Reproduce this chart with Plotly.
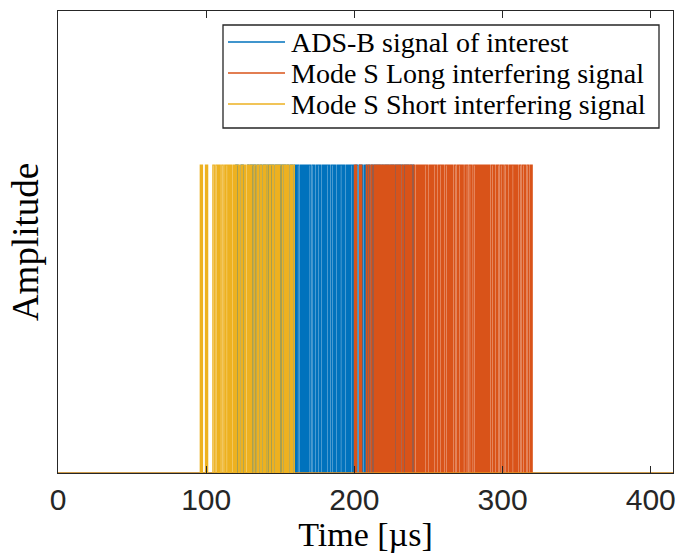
import plotly.graph_objects as go

# Time axis extent (microseconds)
T_END = 415.0

# Message start times (microseconds)
ADS_B_START = 120.0
MODE_S_LONG_START = 200.0
MODE_S_SHORT_START = 96.0

# Message contents (hex): 112-bit extended squitter / long reply, 56-bit short reply
ADS_B_HEX = "8D4840D6202CC371C32CE0576098"
MODE_S_LONG_HEX = "A8000F3E80C33BE9CB7FF65B1EB4"
MODE_S_SHORT_HEX = "5D3C6614C4C2F1"

# 8 us preamble in 0.5 us chips: pulses at 0, 1.0, 3.5 and 4.5 us
PREAMBLE_CHIPS = [1, 0, 1, 0, 0, 0, 0, 1, 0, 1, 0, 0, 0, 0, 0, 0]
CHIP_US = 0.5

SERIES_NAMES = [
    "ADS-B signal of interest",
    "Mode S Long interfering signal",
    "Mode S Short interfering signal",
]
SERIES_COLORS = ["#0072BD", "#D95319", "#EDB120"]


def hex_to_bits(hexstr):
    out = []
    for ch in hexstr:
        v = int(ch, 16)
        out.extend([(v >> k) & 1 for k in (3, 2, 1, 0)])
    return out


def ppm_chips(hexstr):
    chips = list(PREAMBLE_CHIPS)
    for b in hex_to_bits(hexstr):
        chips.extend([1, 0] if b else [0, 1])
    return chips


def waveform(start, hexstr):
    chips = ppm_chips(hexstr)
    xs, ys = [0.0], [0]
    for i, c in enumerate(chips):
        xs.append(start + CHIP_US * i)
        ys.append(c)
    xs.append(start + CHIP_US * len(chips))
    ys.append(0)
    xs.append(T_END)
    ys.append(0)
    return xs, ys


signals = [
    (ADS_B_START, ADS_B_HEX),
    (MODE_S_LONG_START, MODE_S_LONG_HEX),
    (MODE_S_SHORT_START, MODE_S_SHORT_HEX),
]

fig = go.Figure()
for (start, msg), name, color in zip(signals, SERIES_NAMES, SERIES_COLORS):
    xs, ys = waveform(start, msg)
    fig.add_trace(go.Scatter(
        x=xs, y=ys, mode="lines", name=name, showlegend=False,
        line=dict(color=color, width=1.2, shape="hv"),
    ))

AXIS_COLOR = "#262626"
SERIF = "Liberation Serif"

# Plot-area geometry in pixels, used to place the boxed legend
W, H = 676, 559
ML, MR, MT, MB = 58, 3, 11, 86
PW, PH = W - ML - MR, H - MT - MB


def px(xp):
    return (xp - ML) / PW


def py(yp):
    return (H - MB - yp) / PH


# Boxed legend: frame, line samples and labels
LEG_LEFT, LEG_RIGHT, LEG_TOP, LEG_BOTTOM = 223, 659, 25, 128
ROW_Y = [42, 73, 104]
fig.add_shape(type="rect", xref="paper", yref="paper",
              x0=px(LEG_LEFT), x1=px(LEG_RIGHT), y0=py(LEG_BOTTOM), y1=py(LEG_TOP),
              line=dict(color=AXIS_COLOR, width=1.3), fillcolor="white", layer="above")
for name, color, ry in zip(SERIES_NAMES, SERIES_COLORS, ROW_Y):
    fig.add_shape(type="line", xref="paper", yref="paper",
                  x0=px(228), x1=px(285), y0=py(ry), y1=py(ry),
                  line=dict(color=color, width=1.4), layer="above")
    fig.add_annotation(text=name, xref="paper", yref="paper",
                       x=px(289), y=py(ry), xanchor="left", yanchor="middle",
                       showarrow=False,
                       font=dict(family=SERIF, size=28, color="#000000"))

fig.update_layout(
    width=W, height=H,
    margin=dict(l=ML, r=MR, t=MT, b=MB, autoexpand=False),
    paper_bgcolor="white", plot_bgcolor="white",
    xaxis=dict(
        range=[0, T_END], tickvals=[0, 100, 200, 300, 400],
        ticks="inside", ticklen=7, tickwidth=1.2, tickcolor=AXIS_COLOR,
        showline=True, linecolor=AXIS_COLOR, linewidth=1.3, mirror="ticks",
        showgrid=False, zeroline=False, ticklabeloverflow="allow", automargin=False,
        tickfont=dict(family="Liberation Sans", size=30, color=AXIS_COLOR),
        title=dict(text="Time [µs]", font=dict(family=SERIF, size=34, color="#000000"), standoff=4),
    ),
    yaxis=dict(
        range=[0, 1.5], showticklabels=False, ticks="",
        showline=True, linecolor=AXIS_COLOR, linewidth=1.3, mirror=True,
        showgrid=False, zeroline=False, automargin=False,
        title=dict(text="Amplitude", font=dict(family=SERIF, size=37, color="#000000"), standoff=6),
    ),
)

fig.write_html("out.html")
